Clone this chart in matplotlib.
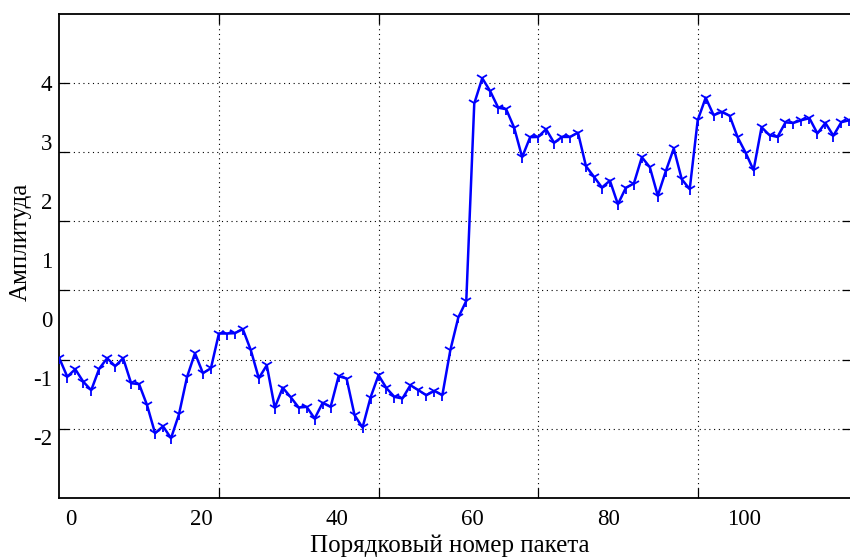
import numpy as np
import matplotlib
matplotlib.use("Agg")
import matplotlib.pyplot as plt

# ---- data (packet index, amplitude) ----
packet = np.arange(100)
amplitude = [
    0.019, -0.249, -0.140, -0.321, -0.444, -0.133, 0.019, -0.097, 0.019, -0.343,
    -0.357, -0.661, -1.067, -0.966, -1.139, -0.792, -0.256, 0.091, -0.198, -0.126,
    0.376, 0.376, 0.381, 0.439, 0.135, -0.271, -0.083, -0.698, -0.408, -0.546,
    -0.695, -0.686, -0.854, -0.628, -0.686, -0.242, -0.275, -0.806, -0.984, -0.550,
    -0.227, -0.415, -0.541, -0.564, -0.372, -0.444, -0.517, -0.454, -0.517, 0.135,
    0.608, 0.848, 3.705, 4.071, 3.883, 3.644, 3.622, 3.355, 2.928, 3.217,
    3.221, 3.333, 3.137, 3.221, 3.221, 3.282, 2.797, 2.645, 2.489, 2.588,
    2.247, 2.486, 2.547, 2.928, 2.783, 2.370, 2.725, 3.054, 2.609, 2.465,
    3.463, 3.789, 3.535, 3.583, 3.528, 3.217, 2.993, 2.740, 3.362, 3.246,
    3.221, 3.431, 3.424, 3.463, 3.492, 3.271, 3.424, 3.239, 3.434, 3.463,
]
grid_x = [20, 40, 60, 80]
grid_y = [-1, 0, 1, 2, 3, 4]
xtick_labels = ["0", "20", "40", "60", "80", "100"]
ytick_labels = ["4", "3", "2", "1", "0", "-1", "-2"]

# ---- layout ----
W, H = 850, 559
fig = plt.figure(figsize=(W / 100, H / 100), dpi=100)
left_px, right_px, top_px, bot_px = 59.3, 852.0, 14.0, 497.7
ax = fig.add_axes([left_px / W, 1 - bot_px / H, (right_px - left_px) / W, (bot_px - top_px) / H])

serif = ["Liberation Serif", "DejaVu Serif"]

ax.plot(packet, amplitude, color=(0, 0, 1), lw=1.8, marker="1", ms=8.5, mew=1.3,
        zorder=3, clip_on=True)

ax.set_xlim(0, (right_px - left_px) / 7.98)
ax.set_ylim(-2, 5)

# gridlines and inward ticks at the grid positions
ax.set_xticks(grid_x)
ax.set_yticks(grid_y)
ax.tick_params(which="major", direction="in", length=7, width=0.9, color="black",
               top=True, right=True, labelbottom=False, labelleft=False)
ax.grid(True, which="major", color="black", lw=0.8, linestyle=(0, (1, 3.3)))

# tick labels (placed where the reference shows them)
ax.xaxis.remove_overlapping_locs = False
ax.yaxis.remove_overlapping_locs = False
xlab_pos = [1.5, 17.8, 34.8, 51.8, 68.8, 85.8]
ylab_pos = [4 - 0.8535 * (4 - v) for v in [4, 3, 2, 1, 0, -1, -2]]
ax.set_xticks(xlab_pos, labels=xtick_labels, minor=True)
ax.set_yticks(ylab_pos, labels=ytick_labels, minor=True)
ax.tick_params(which="minor", length=0, labelsize=16.5, pad=5)
ax.tick_params(axis="x", which="minor", pad=8)
for lab in ax.get_xticklabels(minor=True) + ax.get_yticklabels(minor=True):
    lab.set_family(serif)

for s in ax.spines.values():
    s.set_linewidth(1.3)
    s.set_color("black")

ax.set_xlabel("Порядковый номер пакета", fontsize=18, family=serif)
ax.set_ylabel("Амплитуда", fontsize=18, family=serif)
ax.xaxis.set_label_coords((450 - left_px) / (right_px - left_px), (bot_px - 546) / (bot_px - top_px))
ax.xaxis.label.set_va("center")
ax.yaxis.set_label_coords((21 - left_px) / (right_px - left_px), (bot_px - 242) / (bot_px - top_px))
ax.yaxis.label.set_va("center")

fig.savefig("out.png", dpi=100)
